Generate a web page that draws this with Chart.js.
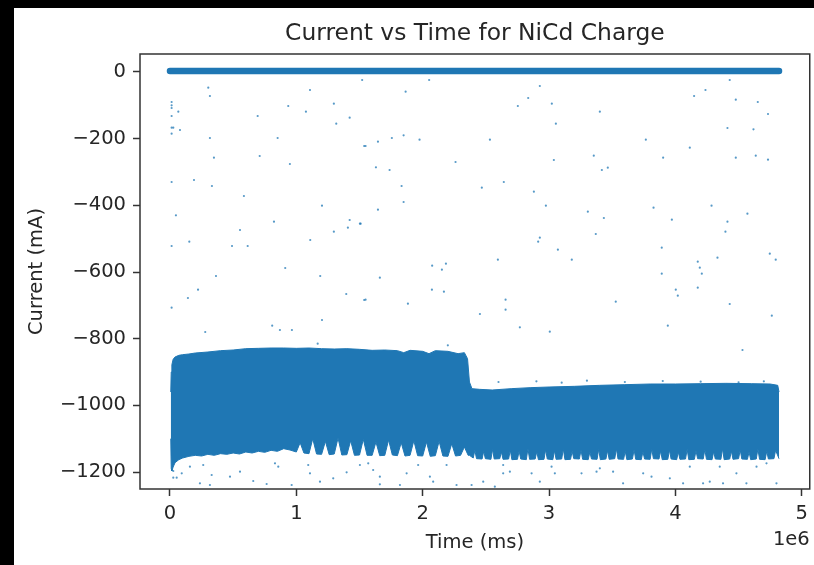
<!DOCTYPE html>
<html>
<head>
<meta charset="utf-8">
<script src="https://cdn.jsdelivr.net/npm/chart.js@4.4.1/dist/chart.umd.min.js"></script>
<style>
    html, body { margin: 0; padding: 0; background: #fff; width: 814px; height: 565px; overflow: hidden; }
    #chart { position: absolute; left: 0; top: 0; }
    .edge { position: absolute; background: #000; }
</style>
</head>
<body>
<canvas id="chart" width="814" height="565"></canvas>
<div class="edge" style="left:0;top:0;width:814px;height:8px"></div>
<div class="edge" style="left:0;top:0;width:14px;height:565px"></div>
<script>
// time values are in units of 1e6 ms (the axis offset), current in mA
const xTicks = [0, 1, 2, 3, 4, 5];
const yTicks = [-1200, -1000, -800, -600, -400, -200, 0];

// upper edge of the dense band
const bandTopTime = [0.006, 0.010, 0.015, 0.025, 0.04, 0.07, 0.10, 0.15, 0.20, 0.30, 0.40, 0.50, 0.60, 0.70, 0.80, 0.90,
    1.00, 1.10, 1.20, 1.30, 1.40, 1.50, 1.60, 1.70, 1.80, 1.85, 1.90, 2.00, 2.05, 2.10, 2.20, 2.28, 2.33, 2.355, 2.37, 2.39,
    2.45, 2.55, 2.70, 2.85, 3.00, 3.20, 3.40, 3.60, 3.80, 4.00, 4.20, 4.40, 4.60, 4.75, 4.81, 4.82];
const bandTopCurrent = [-960, -900, -878, -862, -855, -850, -848, -846, -843, -840, -836, -834, -830, -829, -828, -828,
    -829, -828, -830, -831, -830, -832, -835, -834, -836, -842, -835, -838, -845, -836, -838, -845, -842, -860, -930, -950,
    -952, -954, -950, -947, -945, -943, -940, -938, -936, -936, -935, -934, -935, -936, -940, -960];

// lower edge of the dense band, with its spikes
const bandBottomTime = [0.006, 0.010, 0.015, 0.025, 0.04, 0.07, 0.10, 0.15, 0.20, 0.25, 0.30, 0.35, 0.40, 0.45, 0.50, 0.55,
    0.60, 0.65, 0.70, 0.75, 0.80, 0.85, 0.90, 0.95,
    1.00, 1.03, 1.06, 1.10, 1.13, 1.16, 1.20, 1.23, 1.26, 1.30, 1.33, 1.36, 1.40, 1.43, 1.46, 1.50, 1.53, 1.56,
    1.60, 1.63, 1.66, 1.70, 1.73, 1.76, 1.80, 1.83, 1.86, 1.90, 1.93, 1.96, 2.00, 2.03, 2.06, 2.10, 2.13, 2.16,
    2.20, 2.23, 2.26, 2.30, 2.33, 2.36, 2.37,
    2.40, 2.413, 2.426, 2.47, 2.483, 2.496, 2.54, 2.553, 2.566, 2.61, 2.623, 2.636, 2.68, 2.693, 2.706, 2.75, 2.763, 2.776,
    2.82, 2.833, 2.846, 2.89, 2.903, 2.916, 2.96, 2.973, 2.986, 3.03, 3.043, 3.056, 3.10, 3.113, 3.126, 3.17, 3.183, 3.196,
    3.24, 3.253, 3.266, 3.31, 3.323, 3.336, 3.38, 3.393, 3.406, 3.45, 3.463, 3.476, 3.52, 3.533, 3.546, 3.59, 3.603, 3.616,
    3.66, 3.673, 3.686, 3.73, 3.743, 3.756, 3.80, 3.813, 3.826, 3.87, 3.883, 3.896, 3.94, 3.953, 3.966, 4.01, 4.023, 4.036,
    4.08, 4.093, 4.106, 4.15, 4.163, 4.176, 4.22, 4.233, 4.246, 4.29, 4.303, 4.316, 4.36, 4.373, 4.386, 4.43, 4.443, 4.456,
    4.50, 4.513, 4.526, 4.57, 4.583, 4.596, 4.64, 4.653, 4.666, 4.71, 4.723, 4.736, 4.78, 4.793, 4.82];
const bandBottomCurrent = [-1100, -1190, -1197, -1185, -1172, -1163, -1158, -1153, -1150, -1152, -1147, -1150, -1145, -1147, -1143, -1146,
    -1140, -1143, -1138, -1141, -1135, -1138, -1130, -1134,
    -1140, -1112, -1143, -1145, -1100, -1146, -1147, -1108, -1148, -1146, -1098, -1149, -1148, -1106, -1150, -1149, -1102, -1150,
    -1150, -1110, -1151, -1150, -1104, -1149, -1151, -1112, -1152, -1150, -1106, -1151, -1152, -1110, -1153, -1151, -1108, -1152,
    -1153, -1115, -1152, -1150, -1125, -1150, -1150,
    -1158, -1135, -1160, -1161, -1138, -1160, -1162, -1132, -1161, -1160, -1140, -1162, -1161, -1134, -1163, -1162, -1137, -1161,
    -1163, -1130, -1162, -1161, -1139, -1163, -1162, -1133, -1161, -1163, -1136, -1162, -1161, -1131, -1163, -1162, -1138, -1160,
    -1161, -1134, -1162, -1163, -1140, -1161, -1162, -1132, -1163, -1161, -1136, -1162, -1160, -1130, -1161, -1162, -1138, -1163,
    -1161, -1133, -1162, -1163, -1139, -1161, -1162, -1131, -1160, -1161, -1137, -1163, -1162, -1134, -1161, -1163, -1140, -1162,
    -1161, -1132, -1163, -1162, -1136, -1160, -1161, -1133, -1162, -1163, -1139, -1161, -1162, -1130, -1163, -1161, -1137, -1162,
    -1160, -1134, -1161, -1162, -1140, -1163, -1161, -1131, -1162, -1163, -1138, -1161, -1160, -1135, -1160];

// the crowd of readings sitting at zero
const zeroTime = [0, 4.82];
const zeroCurrent = [3, 3];

// scattered readings away from the band
const dotTime = [0.303, 0.316, 0.013, 0.013, 0.013, 0.066, 0.013, 0.013, 0.026, 0.079, 0.013, 1.108, 1.521, 0.936, 1.076, 0.694,
    1.297, 1.422, 1.316, 0.316, 0.852, 1.537, 0.348, 0.710, 0.949, 0.013, 0.190, 0.332, 0.585, 1.203, 0.047, 0.823, 1.422,
    1.503, 1.408, 0.554, 1.297, 0.153, 0.013, 0.491, 0.615, 1.110, 0.912, 0.364, 1.189, 0.222, 0.142, 1.395, 1.537, 0.013,
    1.203, 0.809, 0.870, 0.965, 0.279, 1.169,
    2.051, 1.865, 2.927, 2.835, 2.753, 3.022, 3.054, 1.548, 1.646, 1.756, 1.849, 1.975, 2.532, 1.630, 1.738, 2.260, 3.038,
    1.833, 1.849, 2.468, 2.642, 2.880, 2.975, 1.646, 1.509, 2.927, 2.914, 3.070, 3.180, 2.595, 2.075, 2.152, 2.184, 1.661,
    2.073, 2.168, 1.548, 1.883, 2.656, 2.656, 2.453, 2.769, 3.006, 2.199,
    4.430, 4.148, 4.238, 4.478, 4.652, 4.733, 3.402, 4.412, 4.618, 3.766, 4.114, 3.354, 3.903, 4.478, 4.636, 4.733, 3.418,
    3.465, 3.307, 3.434, 3.370, 3.827, 3.972, 4.286, 4.570, 4.412, 4.396, 3.892, 4.333, 4.177, 4.193, 4.209, 3.892, 4.747,
    4.794, 4.003, 4.019, 4.177, 3.528, 4.430, 4.763, 3.940, 4.531,
    2.60, 2.90, 3.10, 3.30, 3.60, 3.90, 4.20, 4.50, 4.70,
    0.026, 0.093, 0.026, 0.053, 0.158, 0.263, 0.330, 0.237, 0.316, 0.475, 0.554, 0.659, 0.765, 0.831, 0.857, 0.963, 1.094,
    1.108, 1.187, 1.292, 1.398, 1.503, 1.569, 1.608, 1.661, 1.661, 1.820, 1.873, 1.964, 2.057, 2.083, 2.189, 2.268, 2.387,
    2.637, 2.637, 2.690, 2.479, 2.571, 2.862, 2.927, 3.046, 3.020, 3.257, 3.376, 3.402, 3.507, 3.586, 3.745, 3.811, 3.956,
    4.061, 4.114, 4.219, 4.272, 4.351, 4.377, 4.483, 4.562, 4.642, 4.721, 4.800];
const dotCurrent = [-47, -72, -90, -100, -108, -119, -132, -167, -167, -174, -185, -54, -24, -102, -119, -132,
    -95, -137, -155, -198, -198, -222, -257, -252, -276, -330, -324, -342, -372, -401, -430, -449, -444,
    -455, -467, -474, -479, -509, -522, -522, -522, -504, -588, -612, -612, -653, -678, -666, -684, -707,
    -744, -761, -774, -774, -780, -815,
    -24, -59, -42, -78, -102, -95, -155, -222, -209, -198, -190, -203, -203, -286, -294, -270, -264,
    -342, -390, -347, -330, -359, -401, -413, -455, -497, -509, -533, -563, -563, -581, -593, -575, -617,
    -653, -659, -683, -695, -683, -713, -726, -766, -779, -820,
    -24, -72, -54, -83, -90, -126, -119, -168, -172, -203, -227, -251, -257, -257, -251, -263, -294,
    -287, -419, -438, -486, -407, -443, -401, -425, -449, -479, -527, -557, -569, -587, -605, -605, -545,
    -563, -653, -671, -647, -689, -696, -731, -761, -834,
    -930, -928, -932, -926, -930, -927, -929, -931, -928,
    -1197, -1204, -1217, -1217, -1184, -1179, -1209, -1234, -1239, -1214, -1199, -1227, -1236, -1174, -1184, -1239, -1179,
    -1204, -1229, -1219, -1201, -1179, -1174, -1194, -1214, -1237, -1239, -1204, -1179, -1214, -1229, -1179, -1239, -1239,
    -1179, -1204, -1199, -1229, -1244, -1204, -1229, -1204, -1184, -1204, -1199, -1189, -1199, -1234, -1204, -1214, -1219,
    -1234, -1184, -1234, -1229, -1184, -1234, -1204, -1234, -1184, -1174, -1234];

const blue = '#1f77b4';
const textColor = '#262626';
const fontFamily = '"DejaVu Sans", sans-serif';

const toPoints = (times, values) => times.map((t, i) => ({x: t * 1e6, y: values[i]}));

const formatCurrent = (v) => (v < 0 ? '\u2212' + Math.abs(v) : String(v));

// title, axis labels, offset text and the box around the plot
const decorations = {
    id: 'decorations',
    afterDraw(chart) {
        const {ctx, chartArea} = chart;
        const cx = (chartArea.left + chartArea.right) / 2;
        ctx.save();
        ctx.strokeStyle = '#333';
        ctx.lineWidth = 1.5;
        ctx.strokeRect(chartArea.left, chartArea.top, chartArea.right - chartArea.left, chartArea.bottom - chartArea.top);

        ctx.fillStyle = textColor;
        ctx.textAlign = 'center';
        ctx.textBaseline = 'alphabetic';
        ctx.font = '23.4px ' + fontFamily;
        ctx.fillText('Current vs Time for NiCd Charge', cx, 40);

        ctx.font = '19.5px ' + fontFamily;
        ctx.textBaseline = 'middle';
        ctx.fillText('Time (ms)', cx, 543);
        ctx.textAlign = 'right';
        ctx.fillText('1e6', chartArea.right, 540);

        ctx.translate(37, (chartArea.top + chartArea.bottom) / 2);
        ctx.rotate(-Math.PI / 2);
        ctx.textAlign = 'center';
        ctx.fillText('Current (mA)', 0, 0);
        ctx.restore();
    },
};

new Chart(document.getElementById('chart'), {
    type: 'line',
    data: {
        datasets: [
            {
                data: toPoints(bandBottomTime, bandBottomCurrent),
                borderColor: blue,
                backgroundColor: blue,
                borderWidth: 1,
                pointRadius: 0,
                fill: false,
            },
            {
                data: toPoints(bandTopTime, bandTopCurrent),
                borderColor: blue,
                backgroundColor: blue,
                borderWidth: 1,
                pointRadius: 0,
                fill: '-1',
            },
            {
                data: toPoints(zeroTime, zeroCurrent),
                borderColor: blue,
                borderWidth: 6.5,
                borderCapStyle: 'round',
                pointRadius: 0,
                fill: false,
            },
            {
                data: toPoints(dotTime, dotCurrent),
                showLine: false,
                pointRadius: 1.1,
                pointBorderWidth: 0,
                pointBackgroundColor: 'rgba(31, 119, 180, 0.75)',
                fill: false,
            },
        ],
    },
    options: {
        responsive: false,
        animation: false,
        events: [],
        layout: {
            padding: {top: 54, right: 4, left: 0, bottom: 0},
        },
        scales: {
            x: {
                type: 'linear',
                min: -0.2373e6,
                max: 5.0633e6,
                afterFit: (scale) => { scale.height = 76; },
                afterBuildTicks: (scale) => { scale.ticks = xTicks.map(v => ({value: v * 1e6})); },
                border: {display: false},
                grid: {
                    drawOnChartArea: false,
                    drawTicks: true,
                    tickLength: 7,
                    tickWidth: 1.5,
                    tickColor: '#333',
                },
                ticks: {
                    color: textColor,
                    padding: 6,
                    maxRotation: 0,
                    font: {family: fontFamily, size: 19.5},
                    callback: (value) => String(value / 1e6),
                },
            },
            y: {
                type: 'linear',
                min: -1251,
                max: 54,
                afterFit: (scale) => { scale.width = 140; },
                afterBuildTicks: (scale) => { scale.ticks = yTicks.map(v => ({value: v})); },
                border: {display: false},
                grid: {
                    drawOnChartArea: false,
                    drawTicks: true,
                    tickLength: 7,
                    tickWidth: 1.5,
                    tickColor: '#333',
                },
                ticks: {
                    color: textColor,
                    padding: 7,
                    font: {family: fontFamily, size: 19.5},
                    callback: (value) => formatCurrent(value),
                },
            },
        },
        plugins: {
            legend: {display: false},
            title: {display: false},
            tooltip: {enabled: false},
        },
    },
    plugins: [decorations],
});
</script>
</body>
</html>
